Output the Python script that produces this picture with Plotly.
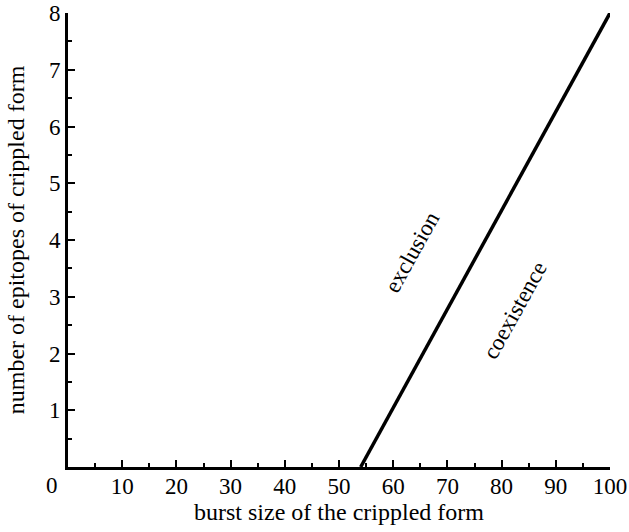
import plotly.graph_objects as go

# data
boundary_x = [54, 100]
boundary_y = [0, 8]
x_tick_vals = [10, 20, 30, 40, 50, 60, 70, 80, 90, 100]
y_tick_vals = [1, 2, 3, 4, 5, 6, 7, 8]
region_labels = ["exclusion", "coexistence"]
region_x = [63.6, 82.5]
region_y = [3.79, 2.75]

FONT = "Liberation Serif, Times New Roman, serif"

fig = go.Figure()
fig.add_trace(go.Scatter(x=boundary_x, y=boundary_y, mode="lines",
                         line=dict(color="black", width=3.5), showlegend=False,
                         cliponaxis=False, hoverinfo="skip"))

for t, x, y in zip(region_labels, region_x, region_y):
    fig.add_annotation(x=x, y=y, text=t, showarrow=False, textangle=-61,
                       font=dict(family=FONT, size=23, color="black"))

# corner zero label
fig.add_annotation(xref="paper", yref="paper", x=0, y=0, xanchor="center",
                   yanchor="middle", xshift=-16.5, yshift=-18.5,
                   text="0", showarrow=False,
                   font=dict(family=FONT, size=23, color="black"))

fig.update_layout(
    width=629, height=532,
    margin=dict(l=68, r=19, t=13, b=65),
    paper_bgcolor="white", plot_bgcolor="white",
    font=dict(family=FONT, size=23, color="black"),
    xaxis=dict(range=[0, 100], tickvals=x_tick_vals, ticks="inside", ticklen=7,
               tickwidth=2, tickcolor="black", showline=True, linewidth=3,
               linecolor="black", showgrid=False, zeroline=False, automargin=False,
               minor=dict(ticks="inside", dtick=5, ticklen=4, tickwidth=2,
                          tickcolor="black", showgrid=False),
               ticklabelstandoff=-4,
               title=dict(text="burst size of the crippled form", standoff=6,
                          font=dict(size=24)),
               tickfont=dict(size=23)),
    yaxis=dict(range=[0, 8], tickvals=y_tick_vals, ticks="inside", ticklen=7,
               tickwidth=2, tickcolor="black", showline=True, linewidth=3,
               linecolor="black", showgrid=False, zeroline=False, automargin=False,
               minor=dict(ticks="inside", dtick=0.5, ticklen=4, tickwidth=2,
                          tickcolor="black", showgrid=False),
               title=dict(text="number of epitopes of crippled form", standoff=18,
                          font=dict(size=24)),
               tickfont=dict(size=23)),
)

fig.write_html("out.html", config={"displayModeBar": False},
               post_script="document.body.style.margin='0px';")
